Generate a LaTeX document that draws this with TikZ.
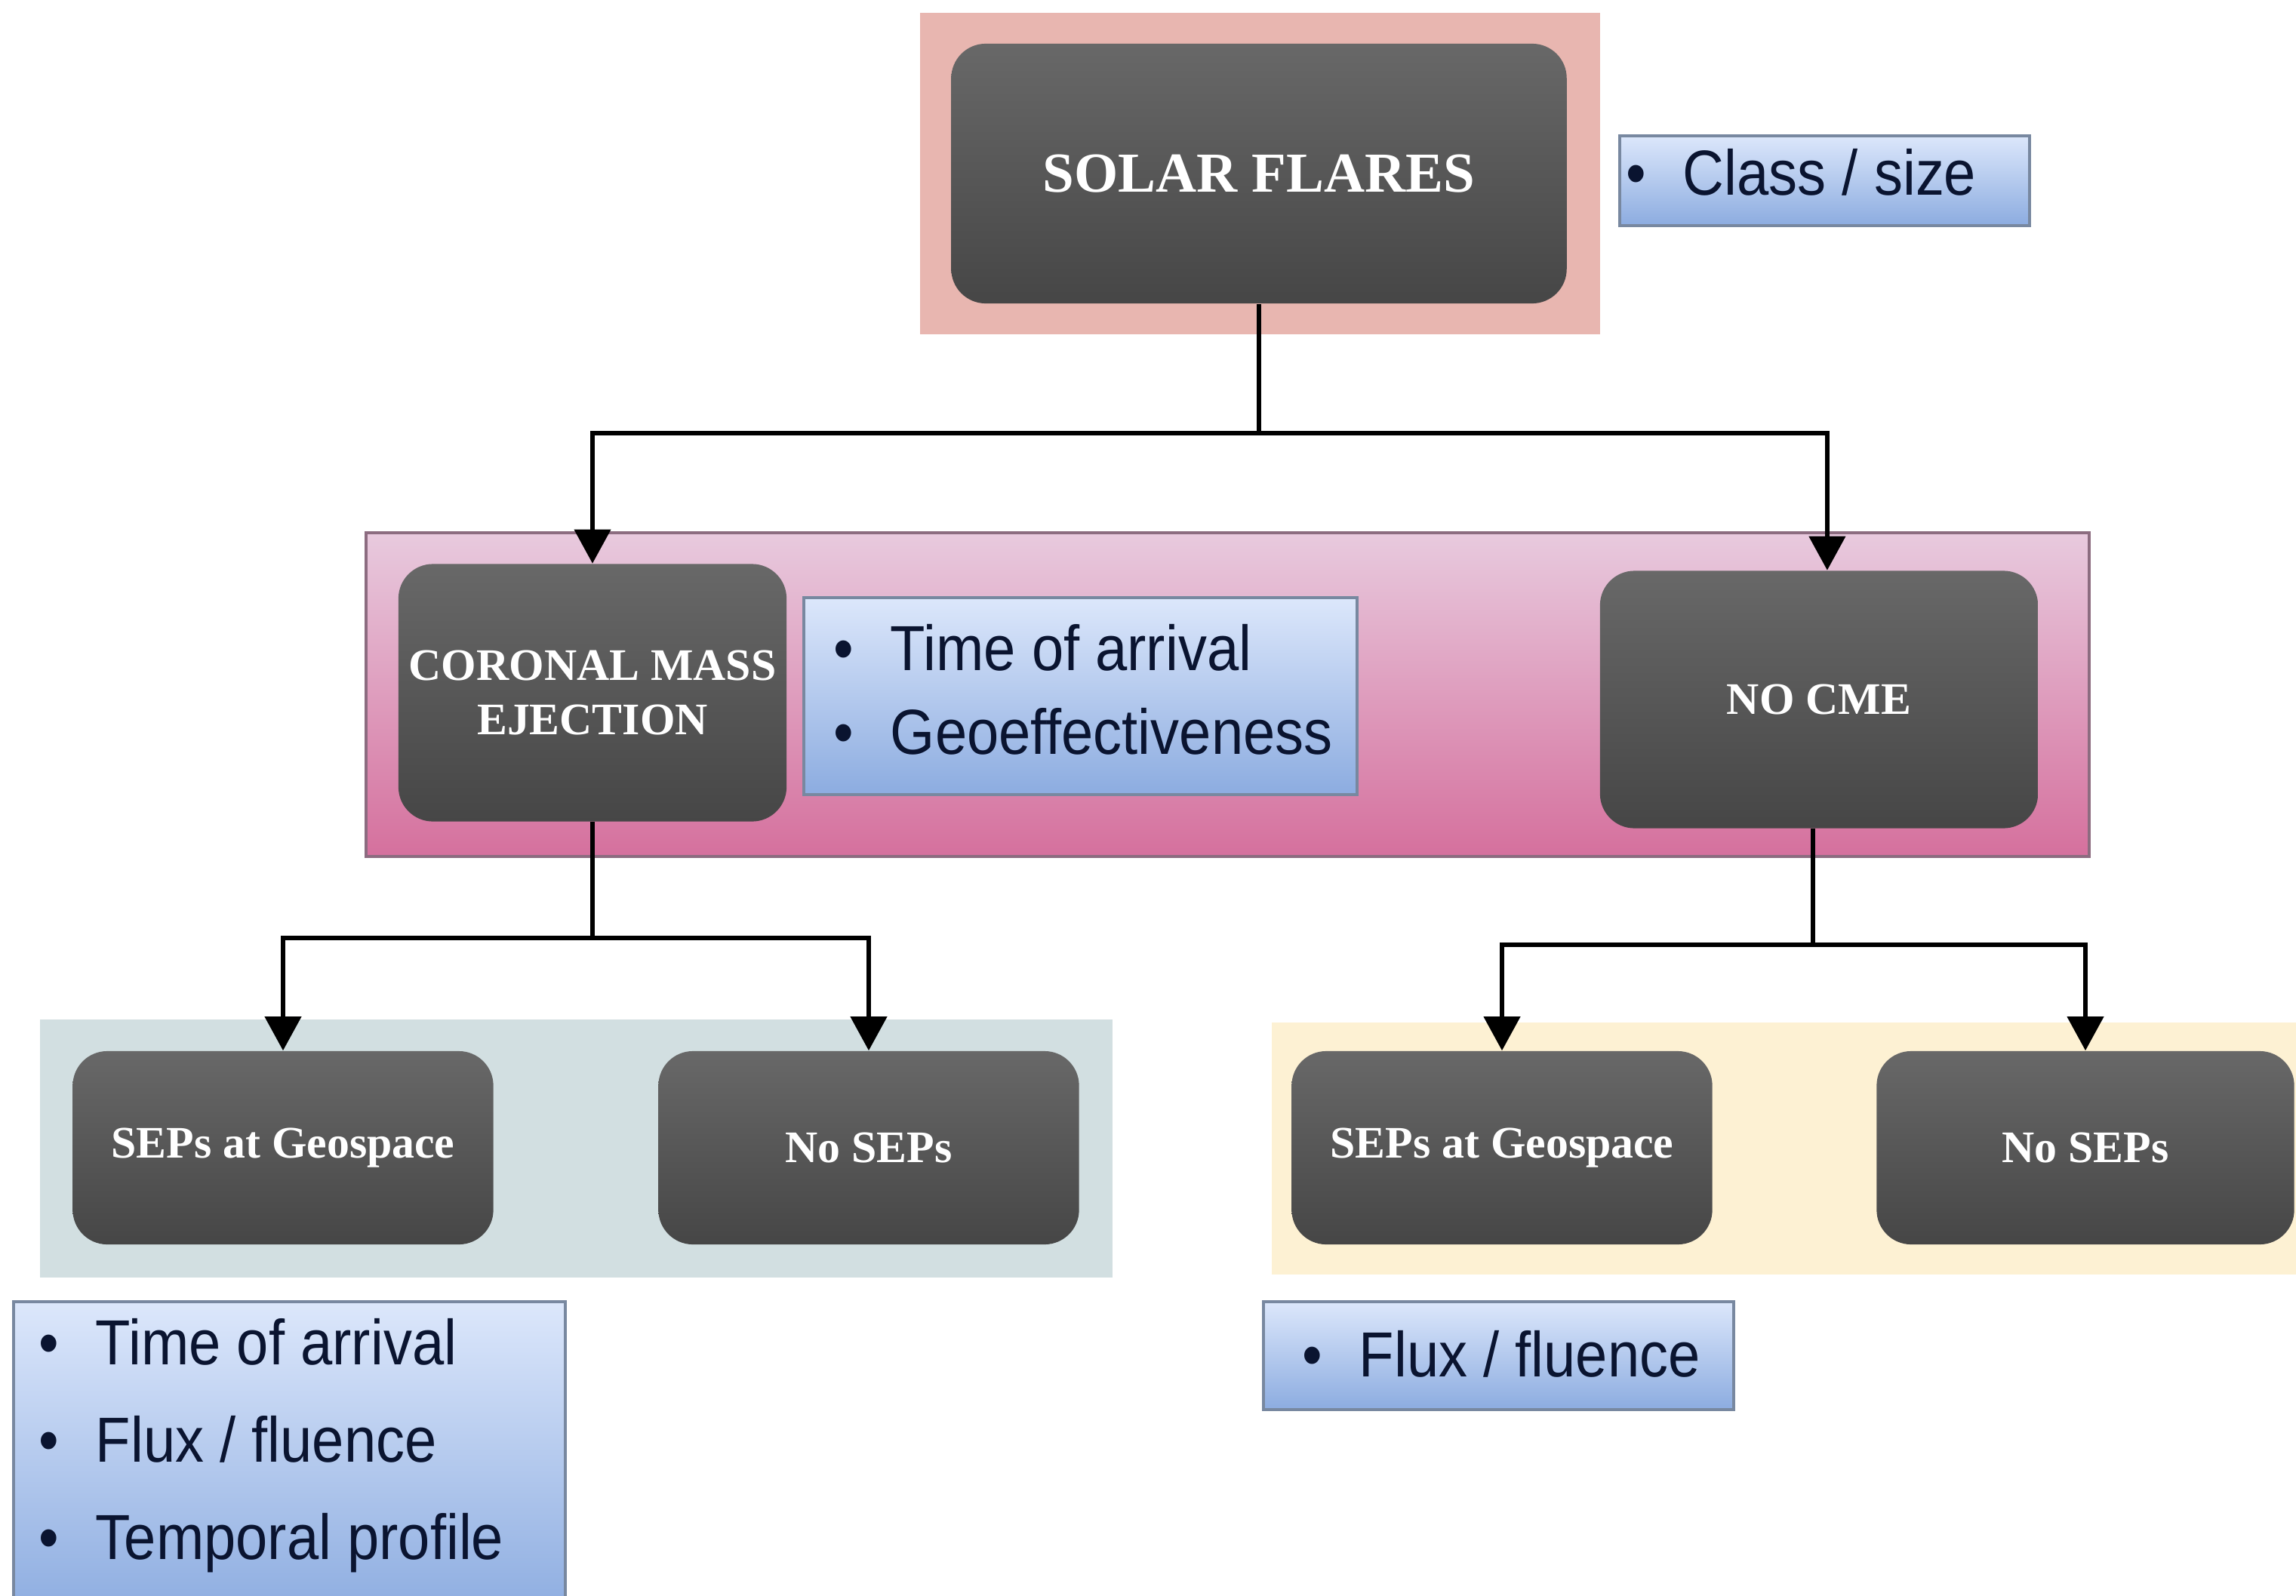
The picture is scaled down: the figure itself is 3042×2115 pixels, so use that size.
\documentclass[tikz,border=0pt]{standalone}
\usepackage{fontspec}
\setmainfont{Liberation Serif}
\newfontfamily\arialc[FakeStretch=0.9]{Liberation Sans}
\usetikzlibrary{arrows.meta}

\definecolor{sfbg}{RGB}{232,182,176}
\definecolor{midtop}{RGB}{232,202,222}
\definecolor{midbot}{RGB}{213,112,157}
\definecolor{midedge}{RGB}{140,108,128}
\definecolor{leftbg}{RGB}{210,223,225}
\definecolor{rightbg}{RGB}{253,241,211}
\definecolor{darktop}{RGB}{104,104,104}
\definecolor{darkbot}{RGB}{70,70,70}
\definecolor{bluetop}{RGB}{220,231,251}
\definecolor{bluebot}{RGB}{140,172,224}
\definecolor{blueedge}{RGB}{120,136,160}
\definecolor{navy}{RGB}{10,20,48}

\tikzset{
 darkbox/.style={rounded corners=13pt, top color=darktop, bottom color=darkbot, draw=none, text=white, font=\bfseries\fontsize{17}{20.5}\selectfont, align=center, inner sep=0pt},
 band/.style={draw=none, inner sep=0pt, anchor=north west},
 bluebox/.style={draw=blueedge, line width=1pt, top color=bluetop, bottom color=bluebot, inner sep=0pt, anchor=north west},
 bultext/.style={anchor=base west, inner sep=0pt, text=navy, font=\arialc\fontsize{24}{31.6}\selectfont},
 conn/.style={line width=1.7pt, black},
 arr/.style={conn, -{Triangle[length=12.8pt,width=13.5pt]}},
}
\newcommand\bul{\makebox[21.4pt][l]{•}}

\begin{document}
\begin{tikzpicture}[x=0.01cm, y=-0.01cm]
\useasboundingbox (0,0) rectangle (3042,2115);
\clip (0,0) rectangle (3042,2115);

% background bands
\node[band, fill=sfbg, minimum width=9.01cm, minimum height=4.26cm] (sfbg) at (1218,16) {};
\node[band, top color=midtop, bottom color=midbot, draw=midedge, line width=1pt, minimum width=22.82cm, minimum height=4.29cm] (midbg) at (483,704) {};
\node[band, fill=leftbg, minimum width=14.20cm, minimum height=3.42cm] (leftbg) at (52,1350) {};
\node[band, fill=rightbg, minimum width=14.00cm, minimum height=3.34cm] (rightbg) at (1684,1354) {};

% dark nodes
\node[darkbox, minimum width=8.15cm, minimum height=3.44cm, font=\bfseries\fontsize{21.3}{25}\selectfont] (sf) at (1668,230) {SOLAR FLARES};
\node[darkbox, minimum width=5.14cm, minimum height=3.41cm] (cme) at (785,918) {CORONAL MASS\\EJECTION};
\node[darkbox, minimum width=5.80cm, minimum height=3.41cm] (nocme) at (2410,927) {NO CME};
\node[darkbox, minimum width=5.57cm, minimum height=2.56cm] (sepL) at (375,1521) {SEPs at Geospace};
\node[darkbox, minimum width=5.57cm, minimum height=2.56cm] (nosepL) at (1151,1521) {No SEPs};
\node[darkbox, minimum width=5.57cm, minimum height=2.56cm] (sepR) at (1990,1521) {SEPs at Geospace};
\node[darkbox, minimum width=5.53cm, minimum height=2.56cm] (nosepR) at (2763,1521) {No SEPs};

% blue boxes
\node[bluebox, minimum width=5.43cm, minimum height=1.19cm] (classb) at (2144,178) {};
\node[bluebox, minimum width=7.33cm, minimum height=2.61cm] (toab) at (1063,790) {};
\node[bluebox, minimum width=7.31cm, minimum height=4.2cm] (blb) at (16,1723) {};
\node[bluebox, minimum width=6.23cm, minimum height=1.43cm] (brb) at (1672,1723) {};

\node[bultext] (classt) at (2154,258) {\bul Class / size};
\node[bultext] (toat) at (1104,888) {\begin{tabular}[t]{@{}l@{}}\bul Time of arrival\\ \bul Geoeffectiveness\end{tabular}};
\node[bultext, font=\arialc\fontsize{24}{36.7}\selectfont] (blt) at (51,1808) {\begin{tabular}[t]{@{}l@{}}\bul Time of arrival\\ \bul Flux / fluence\\ \bul Temporal profile\end{tabular}};
\node[bultext] (brt) at (1725,1824) {\bul Flux / fluence};

% connectors
\coordinate (j1) at (1668,574);
\draw[conn] (sf.south) -- (j1);
\draw[arr] (j1) -| (cme.north);
\draw[arr] (j1) -| ([xshift=3.1pt]nocme.north);

\path (cme.south) ++(0,154) coordinate (j2);
\draw[conn] (cme.south) -- (j2);
\draw[arr] (j2) -| (sepL.north);
\draw[arr] (j2) -| (nosepL.north);

\path ([xshift=-2.3pt]nocme.south) ++(0,154) coordinate (j3);
\draw[conn] ([xshift=-2.3pt]nocme.south) -- (j3);
\draw[arr] (j3) -| (sepR.north);
\draw[arr] (j3) -| (nosepR.north);
\end{tikzpicture}
\end{document}
